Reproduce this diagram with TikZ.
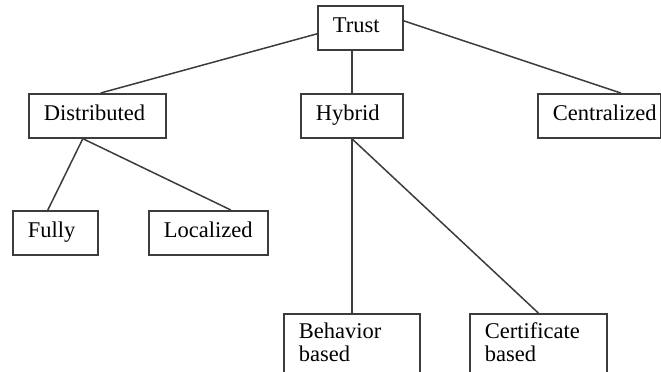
\documentclass[tikz,border=0pt]{standalone}
\usepackage{fontspec}
\setmainfont{Liberation Serif}
\usepackage{tikz}
\definecolor{edgegray}{RGB}{60,60,60}
\tikzset{
  box/.style={draw=edgegray, line width=0.05cm, fill=white, anchor=north west,
    inner xsep=0.45cm, inner ysep=0.25cm, text width=#1, align=left,
    minimum height=1.32cm, font=\fontsize{19.2pt}{19.6pt}\selectfont,
    execute at begin node=\strut, execute at end node=\strut},
  link/.style={draw=edgegray, line width=0.045cm}
}

\begin{document}
\begin{tikzpicture}
		\clip (0,0) rectangle (19.83,-11.13);

		% Define nodes
		\node[box=1.65cm, xshift=9.51cm, yshift=-0.15cm] (trust) {Trust};
		\node[box=3.21cm, xshift=0.84cm, yshift=-2.79cm] (dist) {Distributed};
		\node[box=2.16cm, xshift=9cm, yshift=-2.79cm] (hybrid) {Hybrid};
		\node[box=2.79cm, xshift=16.11cm, yshift=-2.79cm] (central) {Centralized};
		\node[box=1.65cm, xshift=0.36cm, yshift=-6.3cm] (fully) {Fully};
		\node[box=2.67cm, xshift=4.44cm, yshift=-6.3cm] (local) {Localized};
		\node[box=3.18cm, xshift=8.49cm, yshift=-9.39cm] (behav) {Behavior\\based};
		\node[box=3.21cm, xshift=14.07cm, yshift=-9.39cm] (cert) {Certificate\\based};

		% Connect the nodes
		\draw[link] ([yshift=-0.18cm]trust.west) -- ([xshift=0.1cm]dist.north);
		\draw[link] (hybrid.north) -- (hybrid.north |- trust.south);
		\draw[link] ([yshift=0.21cm]trust.east) -- ([xshift=0.645cm]central.north);
		\draw[link] ([xshift=-0.435cm]dist.south) -- ([xshift=-0.225cm]fully.north);
		\draw[link] ([xshift=-0.435cm]dist.south) -- ([xshift=0.675cm]local.north);
		\draw[link] (hybrid.south) -- (behav.north);
		\draw[link] (hybrid.south) -- (cert.north);
	\end{tikzpicture}
\end{document}
